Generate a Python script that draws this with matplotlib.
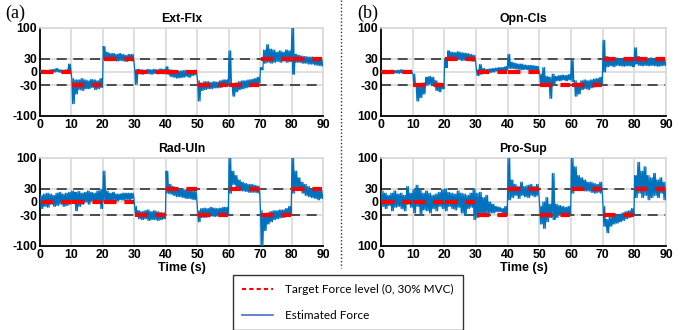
import matplotlib.pyplot as plt
from matplotlib.lines import Line2D
import numpy as np

# target levels (% MVC) per 10 s block
target_extflx = [0, -30, 30, 0, 0, -30, -30, 30, 30]
target_opncls = [0, -30, 30, 0, 0, -30, -30, 30, 30]
target_raduln = [0, 0, 0, -30, 30, -30, 30, -30, 30]
target_prosup = [0, 0, 0, -30, 30, -30, 30, -30, 30]

# estimated force, upper / lower edge of the trace for each second (t = 0..89), plus end value
extflx_hi = [4, 4, 3, 5, 6, 8, 5, 4, 5, 18,
             -15, -18, -18, -15, -18, -20, -17, -18, -20, -15,
             58, 45, 42, 42, 40, 42, 40, 38, 40, 40,
             5, 6, 5, 4, 6, 5, 6, 5, 7, 6,
             12, 5, 4, 3, 2, 3, 4, 2, 3, 4,
             -20, -25, -22, -22, -24, -22, -23, -20, -18, -18,
             48, -30, -25, -22, -20, -20, -18, -17, -15, -12,
             10, 50, 62, 52, 50, 45, 48, 45, 50, 48,
             100, 40, 38, 36, 35, 34, 34, 33, 32, 30]
extflx_lo = [-2, -3, -2, -1, 0, 1, -1, -2, -1, 2,
             -72, -50, -40, -42, -38, -38, -35, -40, -38, -35,
             30, 28, 26, 27, 25, 26, 25, 24, 26, 25,
             -28, -4, -5, -3, -4, -5, -3, -4, -3, -4,
             -5, -10, -12, -14, -13, -12, -10, -12, -8, -6,
             -66, -42, -40, -38, -38, -36, -36, -35, -32, -30,
             -30, -55, -45, -40, -38, -36, -34, -30, -28, -25,
             5, 20, 22, 20, 22, 24, 22, 25, 22, 24,
             -5, 22, 22, 20, 20, 18, 18, 16, 15, 14]
extflx_end = 20

opncls_hi = [3, 4, 3, 4, 3, 4, 5, 4, 3, 4,
             -5, -30, -28, -25, -12, -10, -12, -20, -25, -28,
             30, 48, 45, 44, 46, 44, 43, 42, 40, 38,
             5, 17, 8, 6, 7, 8, 9, 10, 10, 12,
             40, 22, 20, 18, 18, 16, 15, 15, 14, 13,
             -5, 10, -10, -12, -5, -10, -8, -7, -8, -6,
             30, -20, -25, -20, -18, -20, -18, -16, -15, -12,
             72, 35, 30, 30, 32, 30, 30, 28, 30, 28,
             55, 35, 32, 33, 30, 32, 30, 28, 30, 28]
opncls_lo = [-3, -4, -2, -3, -2, -3, -2, -3, -3, -2,
             -30, -66, -58, -50, -30, -28, -30, -42, -45, -38,
             10, 28, 28, 27, 28, 26, 27, 26, 25, 24,
             -8, -5, -3, -2, -1, 0, 2, 3, 4, 5,
             8, 8, 7, 6, 5, 6, 5, 4, 5, 4,
             -28, -30, -32, -60, -30, -20, -20, -18, -20, -18,
             -22, -55, -50, -40, -38, -40, -36, -34, -32, -30,
             0, 12, 14, 12, 15, 14, 13, 14, 14, 12,
             18, 15, 14, 15, 14, 15, 14, 13, 14, 15]
opncls_end = 20

raduln_hi = [15, 18, 20, 18, 15, 20, 22, 18, 20, 22,
             25, 22, 24, 20, 22, 25, 22, 20, 25, 28,
             70, 25, 20, 22, 18, 18, 20, 20, 20, 20,
             -10, -20, -22, -20, -18, -22, -20, -22, -24, -25,
             70, 40, 35, 32, 30, 28, 28, 26, 25, 24,
             -20, -15, -14, -15, -12, -14, -15, -14, -12, -12,
             100, 70, 60, 50, 45, 42, 40, 40, 38, 36,
             -20, -30, -25, -22, -20, -20, -18, -18, -15, -10,
             100, 70, 55, 45, 40, 35, 30, 30, 28, 26]
raduln_lo = [-15, -10, -12, -5, -10, -8, -5, -10, -8, -5,
             -2, -20, -10, -5, 0, -5, 2, 0, -2, -15,
             0, 2, 0, 5, 2, 5, 4, 6, 5, 8,
             -30, -38, -40, -38, -42, -40, -40, -42, -40, -38,
             20, 18, 15, 12, 12, 10, 8, 8, 6, 5,
             -45, -35, -35, -34, -32, -33, -32, -30, -30, -30,
             20, 40, 32, 28, 25, 24, 22, 22, 22, 20,
             -100, -65, -50, -45, -40, -38, -36, -35, -32, -28,
             20, 30, 28, 20, 15, 12, 10, 8, 5, 8]
raduln_end = 15

prosup_hi = [25, 20, 15, 20, 25, 18, 20, 15, 35, 20,
             28, 38, 30, 20, 25, 20, 15, 18, 22, 28,
             30, 22, 20, 18, 25, 20, 18, 15, 20, 30,
             20, 22, 10, 15, 0, -5, -10, -12, -15, -10,
             100, 50, 40, 35, 45, 35, 38, 40, 35, 40,
             -10, 0, 10, -5, 65, -5, -8, -10, -12, -10,
             100, 80, 60, 55, 50, 45, 45, 42, 40, 45,
             -10, -40, -35, -30, -30, -28, -25, -22, -20, -15,
             60, 90, 70, 80, 60, 55, 65, 50, 55, 45]
prosup_lo = [-10, -15, -8, -20, -12, -10, -15, -20, -5, -12,
             -25, -10, -30, -18, -20, -25, -15, -20, -10, -15,
             -20, -10, -15, -18, -12, -25, -30, -15, -12, -40,
             -35, -30, -30, -25, -25, -25, -22, -22, -25, -30,
             5, 10, 15, 8, 15, 12, 10, 15, 12, 15,
             -50, -60, -45, -35, -40, -35, -30, -30, -30, -28,
             20, 35, 30, 28, 25, 25, 22, 20, 22, 20,
             -55, -70, -55, -50, -48, -45, -42, -38, -35, -30,
             10, 20, 10, 15, 5, 10, 15, 10, 20, 5]
prosup_end = 25

titles = ['Ext-Flx', 'Opn-Cls', 'Rad-Uln', 'Pro-Sup']
x_ticks = [0, 10, 20, 30, 40, 50, 60, 70, 80, 90]
y_ticks = [-100, -30, 0, 30, 100]
y_labels_left = ['-100', '-30', '0', '30', '100']
y_labels_right = ['100', '-30', '0', '30', '100']

blue = '#0072BD'
red = '#FF0000'

W, H = 683, 330
fig = plt.figure(figsize=(W / 100, H / 100), dpi=100)


def axes_px(x0, y0, x1, y1):
    return fig.add_axes([x0 / W, 1 - y1 / H, (x1 - x0) / W, (y1 - y0) / H])


def trace(hi, lo, end):
    # each second of the trace swings between its read-off upper and lower edge
    t = [0.0]
    v = [hi[0]]
    for k in range(len(hi)):
        t += [k + 0.125, k + 0.375, k + 0.625, k + 0.875]
        v += [hi[k], lo[k], hi[k], lo[k]]
    t.append(90.0)
    v.append(end)
    return np.array(t), np.array(v)


panels = [
    (axes_px(40, 28, 323, 116), extflx_hi, extflx_lo, extflx_end, target_extflx, y_labels_left),
    (axes_px(381, 28, 666, 116), opncls_hi, opncls_lo, opncls_end, target_opncls, y_labels_right),
    (axes_px(40, 158, 323, 246), raduln_hi, raduln_lo, raduln_end, target_raduln, y_labels_left),
    (axes_px(381, 158, 666, 246), prosup_hi, prosup_lo, prosup_end, target_prosup, y_labels_right),
]

for i, (ax, hi, lo, end, target, ylab) in enumerate(panels):
    ax.set_xlim(0, 90)
    ax.set_ylim(-100, 100)
    ax.set_xticks(x_ticks)
    ax.set_yticks(y_ticks)
    ax.set_yticklabels(ylab)
    ax.grid(True, color='#d9d9d9', linewidth=1.2)
    ax.set_axisbelow(True)
    for s in ['top', 'right']:
        ax.spines[s].set_color('#d9d9d9')
        ax.spines[s].set_linewidth(1.2)
    for s in ['left', 'bottom']:
        ax.spines[s].set_linewidth(1.3)
    ax.tick_params(length=0, pad=2, labelsize=8.8)
    for lab in ax.get_xticklabels() + ax.get_yticklabels():
        lab.set_fontweight('bold')
        lab.set_fontfamily('Liberation Sans')
    ax.set_title(titles[i], fontsize=8.8, fontweight='bold', family='Liberation Sans', pad=4)

    for lvl in [30, -30]:
        ax.axhline(lvl, color='#333333', linewidth=1.2, linestyle=(0, (6, 4)), zorder=2)

    t, v = trace(hi, lo, end)
    ax.plot(t, v, color=blue, linewidth=0.9, zorder=3)

    for k, lvl in enumerate(target):
        ax.plot([k * 10 + 0.2, k * 10 + 9.8], [lvl, lvl], color=red, linewidth=3.0,
                linestyle=(0, (3.0, 1.9)), solid_capstyle='butt', dash_capstyle='butt', zorder=4)

    if i >= 2:
        ax.set_xlabel('Time (s)', fontsize=9, fontweight='bold', family='Liberation Sans', labelpad=1)

fig.text(5 / W, 1 - 13 / H, '(a)', fontsize=13, family='Liberation Serif', va='center', ha='left')
fig.text(357 / W, 1 - 13 / H, '(b)', fontsize=13, family='Liberation Serif', va='center', ha='left')

fig.add_artist(Line2D([341 / W, 341 / W], [1, 1 - 268 / H], transform=fig.transFigure,
                      color='#333333', linestyle=(0, (1, 1.5)), linewidth=1))

handles = [Line2D([], [], color=red, linestyle=(0, (2, 1.5)), linewidth=1.5),
           Line2D([], [], color='#4472C4', linewidth=1.2)]
leg = fig.legend(handles, ['Target Force level (0, 30% MVC)', 'Estimated Force'],
                 loc='upper left', bbox_to_anchor=(233 / W, 1 - 275 / H), borderaxespad=0,
                 frameon=True, fancybox=False, edgecolor='#333333', framealpha=1,
                 prop={'family': 'Lato', 'size': 8.5}, labelspacing=1.2, handlelength=2.6,
                 borderpad=0.8, handletextpad=1.0)
leg.get_frame().set_linewidth(1.0)

fig.savefig('out.png', dpi=100)
